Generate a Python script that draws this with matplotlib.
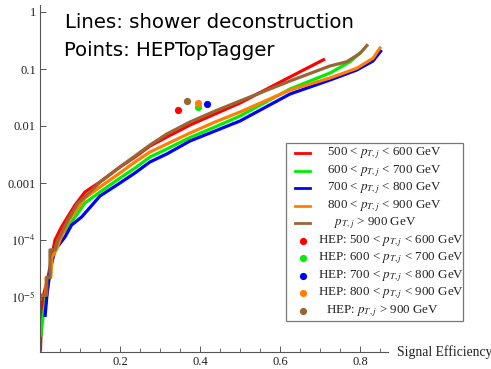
import matplotlib
matplotlib.use("Agg")
import matplotlib.pyplot as plt
from matplotlib.lines import Line2D
from matplotlib.patches import Rectangle
import numpy as np

plt.rcParams['mathtext.fontset'] = 'stix'

# ---- data: shower deconstruction curves (signal eff, background eff) ----
red_x = [0.001, 0.004, 0.0075, 0.02, 0.0375, 0.054, 0.0875, 0.1125, 0.15, 0.2, 0.2375, 0.275, 0.317, 0.375, 0.4375, 0.5, 0.625, 0.7125]
red_y = [1.1e-6, 4.45e-6, 1.0e-5, 2.2e-5, 1.0e-4, 1.7e-4, 4.1e-4, 6.95e-4, 1.04e-3, 1.91e-3, 2.86e-3, 4.46e-3, 6.41e-3, 0.0104, 0.01625, 0.0253, 0.0724, 0.15]

green_x = [0.002, 0.0075, 0.017, 0.03, 0.045, 0.07, 0.095, 0.1125, 0.15, 0.2, 0.2375, 0.275, 0.317, 0.375, 0.4375, 0.5, 0.625, 0.725, 0.775, 0.802]
green_y = [2.0e-6, 4.45e-6, 1.17e-5, 4.45e-5, 1.0e-4, 1.7e-4, 2.98e-4, 4.47e-4, 6.95e-4, 1.22e-3, 1.83e-3, 2.86e-3, 3.95e-3, 6.28e-3, 9.6e-3, 0.01497, 0.0446, 0.085, 0.134, 0.196]

blue_x = [0.0125, 0.017, 0.025, 0.0375, 0.0625, 0.079, 0.104, 0.15, 0.2, 0.2375, 0.275, 0.317, 0.375, 0.4375, 0.5, 0.625, 0.725, 0.792, 0.8325, 0.854]
blue_y = [4.45e-6, 1.0e-5, 2.98e-5, 6.7e-5, 1.13e-4, 1.83e-4, 2.53e-4, 5.92e-4, 1.0e-3, 1.5e-3, 2.34e-3, 3.23e-3, 5.46e-3, 8.17e-3, 0.01224, 0.0364, 0.064, 0.096, 0.138, 0.216]

orange_x = [0.004, 0.015, 0.015, 0.027, 0.03, 0.042, 0.05, 0.07, 0.1125, 0.15, 0.2, 0.2375, 0.275, 0.317, 0.375, 0.4375, 0.5, 0.625, 0.725, 0.792, 0.8325, 0.852]
orange_y = [1.08e-5, 1.08e-5, 2.2e-5, 2.2e-5, 5.0e-5, 7.0e-5, 1.0e-4, 2.1e-4, 5.46e-4, 8.51e-4, 1.5e-3, 2.34e-3, 3.5e-3, 4.83e-3, 7.53e-3, 0.01175, 0.0176, 0.0428, 0.0695, 0.103, 0.154, 0.246]

brown_x = [0.002, 0.017, 0.017, 0.025, 0.025, 0.0375, 0.045, 0.07, 0.095, 0.1125, 0.15, 0.2, 0.2375, 0.275, 0.317, 0.375, 0.4375, 0.5, 0.625, 0.725, 0.767, 0.8, 0.82]
brown_y = [1.08e-5, 1.08e-5, 2.2e-5, 2.2e-5, 6.7e-5, 6.7e-5, 1.0e-4, 2.24e-4, 4.5e-4, 5.7e-4, 1.04e-3, 1.91e-3, 2.98e-3, 4.64e-3, 7.24e-3, 0.01175, 0.0183, 0.0275, 0.0616, 0.113, 0.134, 0.188, 0.271]

# ---- data: HEPTopTagger points ----
hep_x = [0.345, 0.395, 0.417, 0.395, 0.368]
hep_y = [0.019, 0.0213, 0.0244, 0.025, 0.0275]

colors = ['#ff0000', '#00ee00', '#0000ff', '#ff8000', '#996633']
labels = [r'500 < $p_{T,j}$ < 600 GeV', r'600 < $p_{T,j}$ < 700 GeV',
          r'700 < $p_{T,j}$ < 800 GeV', r'800 < $p_{T,j}$ < 900 GeV',
          r'$p_{T,j}$ > 900 GeV']
hep_labels = ['HEP: ' + l for l in labels]

yticks = [1e-5, 1e-4, 1e-3, 1e-2, 1e-1, 1]
ytick_labels = [r'$10^{-5}$', r'$10^{-4}$', '0.001', '0.01', '0.1', '1']
xticks = [0.2, 0.4, 0.6, 0.8]
xtick_labels = ['0.2', '0.4', '0.6', '0.8']

W, H = 491, 369
fig = plt.figure(figsize=(W / 100, H / 100), dpi=100)

def fx(px):
    return px / W

def fy(py):
    return 1 - py / H

ax_l, ax_r, ax_t, ax_b = 40, 388, 5, 352.3
ax = fig.add_axes([fx(ax_l), fy(ax_b), fx(ax_r - ax_l), (ax_b - ax_t) / H])
ax.set_yscale('log')
ax.set_xlim(0, (ax_r - ax_l) / 400)
ax.set_ylim(10 ** ((12 - ax_b) / 57), 10 ** ((12 - ax_t) / 57))

lines_x = [red_x, green_x, blue_x, orange_x, brown_x]
lines_y = [red_y, green_y, blue_y, orange_y, brown_y]
for xs, ys, c in zip(lines_x, lines_y, colors):
    ax.plot(xs, ys, color=c, lw=2.3, solid_joinstyle='round', solid_capstyle='butt', clip_on=True)

for x, y, c in zip(hep_x, hep_y, colors):
    ax.plot([x], [y], 'o', color=c, ms=5.2, mec='none')

for s in ['top', 'right']:
    ax.spines[s].set_visible(False)
for s in ['left', 'bottom']:
    ax.spines[s].set_color('#555555')
    ax.spines[s].set_linewidth(0.8)

ax.set_yticks(yticks)
ax.set_yticklabels(ytick_labels)
ax.yaxis.set_minor_locator(matplotlib.ticker.NullLocator())
ax.set_xticks(xticks)
ax.set_xticklabels(xtick_labels)
ax.set_xticks(np.arange(0.05, 0.86, 0.05), minor=True)
ax.tick_params(axis='both', which='major', direction='in', length=4.5, width=0.7,
               color='#555555', labelsize=9, pad=3)
ax.tick_params(axis='x', which='minor', direction='in', length=3, width=0.6, color='#555555')
for lab in ax.get_xticklabels() + ax.get_yticklabels():
    lab.set_fontfamily('Liberation Serif')
    lab.set_color('#222222')

fig.text(fx(397), fy(352), 'Signal Efficiency', family='Liberation Serif',
         fontsize=9.8, va='center', ha='left', color='#222222')

fig.text(fx(65), fy(28.3), 'Lines: shower deconstruction', family='DejaVu Sans',
         fontsize=14.2, va='baseline', ha='left')
fig.text(fx(64), fy(56), 'Points: HEPTopTagger', family='DejaVu Sans',
         fontsize=14.2, va='baseline', ha='left')

# ---- legend box ----
bx0, by0, bx1, by1 = 286, 142.7, 463.3, 321
fig.patches.append(Rectangle((fx(bx0), fy(by1)), fx(bx1 - bx0), (by1 - by0) / H,
                             transform=fig.transFigure, fill=True, facecolor='white',
                             edgecolor='#777777', lw=0.9, zorder=5))
row0, dy = 153.3, 17.5
centers = [384, 384, 384, 384, 375.5, 391, 391, 391, 391, 382.5]
for i in range(10):
    yy = row0 + i * dy
    if i < 5:
        c = colors[i]
        fig.add_artist(Line2D([fx(295), fx(310)], [fy(yy), fy(yy)], color=c, lw=2.0,
                              transform=fig.transFigure, zorder=6))
        txt = labels[i]
    else:
        c = colors[i - 5]
        fig.add_artist(Line2D([fx(302.7)], [fy(yy)], marker='o', color=c, ms=5.2,
                              mec='none', transform=fig.transFigure, zorder=6))
        txt = hep_labels[i - 5]
    fig.text(fx(centers[i]), fy(yy), txt, family='Liberation Serif', fontsize=9.4,
             ha='center', va='center', zorder=7, color='#222222')

fig.savefig('out.png', dpi=100)
